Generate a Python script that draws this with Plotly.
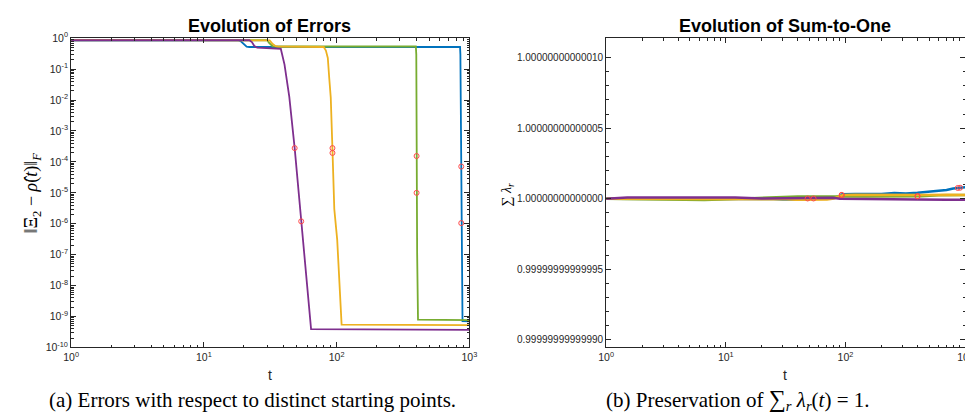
import plotly.graph_objects as go

# ---------------- data: left panel (errors) ----------------
blue_t = [1, 18, 19, 20, 21, 22, 850, 855, 862, 868, 873, 880, 887, 1000]
blue_e = [0.86, 0.86, 0.80, 0.62, 0.53, 0.52, 0.52, 0.3, 1e-2, 7e-5, 1e-6, 1e-8, 7.1e-10, 7.0e-10]

green_t = [1, 30, 31, 33, 36, 395, 398, 400, 401, 404, 410, 1000]
green_e = [0.86, 0.86, 0.7, 0.55, 0.54, 0.54, 0.3, 1e-3, 1e-5, 1e-7, 7.9e-10, 7.6e-10]

yellow_t = [1, 30, 31.3, 33, 34.7, 36, 78, 80, 83, 85.8, 88, 90.3, 93, 96, 101, 105, 109, 1000]
yellow_e = [0.89, 0.89, 0.85, 0.65, 0.55, 0.54, 0.54, 0.52, 0.4, 0.23, 0.05, 1.2e-2, 2.5e-4, 3e-6, 3e-7, 1e-8, 5.5e-10, 5.3e-10]

purple_t = [1, 22, 23, 24, 25.2, 27, 35, 38, 40.5, 44, 48.3, 54.1, 58.9, 64.2, 1000]
purple_e = [0.86, 0.86, 0.75, 0.56, 0.5, 0.49, 0.48, 0.45, 0.14, 1.26e-2, 2.8e-4, 1.2e-6, 2.2e-8, 3.9e-10, 3.7e-10]

circ_t = [48.3, 54.1, 93, 93, 400, 400, 868, 868]
circ_e = [2.8e-4, 1.2e-6, 2.8e-4, 1.95e-4, 1.55e-4, 1e-5, 7.1e-5, 1.05e-6]

# ---------------- data: right panel (sum-to-one), deviation from 1 in units of 1e-15 ----------------
blue_rt = [1, 2, 4, 8, 15, 25, 30, 36, 45, 60, 80, 90, 94, 120, 160, 200, 256, 320, 400, 500, 589, 700, 795, 868, 908, 1000]
blue_rd = [0, 0.1, 0, 0.2, 0, -0.2, -0.5, -0.7, -0.4, 0.2, 0.5, 1.5, 3.0, 3.3, 3.6, 3.4, 3.9, 3.7, 4.2, 4.8, 5.5, 6.2, 7.3, 7.5, 7.7, 8.2]

green_rt = [1, 2, 3.5, 5, 6.6, 9, 15, 23, 30, 40, 55, 70, 82, 90, 100, 150, 250, 400, 425, 600, 1000]
green_rd = [0, -0.3, -0.9, -1.0, -0.9, -0.5, 0.2, 1.2, 1.4, 1.5, 1.6, 1.4, 1.5, 1.7, 1.6, 1.5, 1.6, 1.8, 1.8, 2.5, 2.6]

yellow_rt = [1, 2, 4, 8, 15, 25, 32, 38.5, 45, 52, 60, 70, 80, 85, 90, 93, 95.5, 120, 200, 300, 500, 700, 1000]
yellow_rd = [0, 0, 0, 0.1, 0, 0, -0.3, -0.7, -0.8, -0.6, -0.7, -0.4, 0.2, 1.2, 2.2, 2.6, 2.7, 2.8, 2.7, 2.8, 2.7, 2.8, 2.7]

purple_rt = [1, 1.5, 3, 6, 12, 20, 30, 36, 48.3, 54.1, 78, 90, 120, 200, 400, 700, 1000]
purple_rd = [0, 0.8, 0.9, 0.9, 0.8, 0.3, 0.2, 0.6, 0.3, 0.3, 0.7, 0.0, -0.2, -0.3, -0.5, -0.7, -0.7]

rcirc_t = [48.3, 54.1, 93, 93, 400, 400, 868, 908]
rcirc_d = [0.3, 0.3, 2.7, 2.7, 1.8, 1.8, 7.5, 7.7]

left_ticks = [10.0 ** (-k) for k in range(0, 11)]
left_ticktext = ["10<sup>%d</sup>" % (-k) for k in range(0, 11)]
left_minor = [m * 10.0 ** (-k) for k in range(1, 11) for m in range(2, 10)]
x_ticks = [1, 10, 100, 1000]
x_ticktext = ["10<sup>0</sup>", "10<sup>1</sup>", "10<sup>2</sup>", "10<sup>3</sup>"]
x_minor = [m * 10.0 ** k for k in range(0, 3) for m in range(2, 10)]
right_ticks = [1 - 1e-13, 1 - 5e-14, 1.0, 1 + 5e-14, 1 + 1e-13]
right_ticktext = ["0.99999999999990", "0.99999999999995", "1.00000000000000",
                  "1.00000000000005", "1.00000000000010"]
right_minor = [1.0 + k * 1e-14 for k in range(-10, 11) if k % 5 != 0]

C_BLUE = "#0072BD"
C_GREEN = "#77AC30"
C_YELLOW = "#EDB120"
C_PURPLE = "#7E2F8E"
C_RED = "#FF4A4A"

fig = go.Figure()

def add_line(t, y, color, xa, ya, w):
    fig.add_trace(go.Scatter(x=t, y=y, mode="lines", line=dict(color=color, width=w),
                             xaxis=xa, yaxis=ya, showlegend=False, hoverinfo="skip"))

add_line(blue_t, blue_e, C_BLUE, "x", "y", 1.8)
add_line(green_t, green_e, C_GREEN, "x", "y", 1.8)
add_line(yellow_t, yellow_e, C_YELLOW, "x", "y", 1.8)
add_line(purple_t, purple_e, C_PURPLE, "x", "y", 1.8)
fig.add_trace(go.Scatter(x=circ_t, y=circ_e, mode="markers",
                         marker=dict(symbol="circle-open", size=5, color=C_RED, line=dict(width=1)),
                         xaxis="x", yaxis="y", showlegend=False, hoverinfo="skip"))

def dev(d):
    return [1.0 + v * 1e-15 for v in d]

add_line(blue_rt, dev(blue_rd), C_BLUE, "x2", "y2", 2.5)
add_line(green_rt, dev(green_rd), C_GREEN, "x2", "y2", 2.5)
add_line(yellow_rt, dev(yellow_rd), C_YELLOW, "x2", "y2", 2.5)
add_line(purple_rt, dev(purple_rd), C_PURPLE, "x2", "y2", 2.5)
fig.add_trace(go.Scatter(x=rcirc_t, y=dev(rcirc_d), mode="markers",
                         marker=dict(symbol="circle-open", size=5, color=C_RED, line=dict(width=1)),
                         xaxis="x2", yaxis="y2", showlegend=False, hoverinfo="skip"))

AX = "#262626"
common = dict(showline=True, linecolor=AX, linewidth=1, mirror="allticks", ticks="inside",
              ticklen=5, tickcolor=AX, showgrid=False, zeroline=False)
font_log = dict(family="Liberation Sans, Arial", size=10.5, color=AX)
font_lin = dict(family="Liberation Sans, Arial", size=10, color=AX)

def minor(vals):
    return dict(ticks="inside", ticklen=2.5, tickcolor=AX, showgrid=False,
                tickmode="array", tickvals=vals)

yb0 = 1 - 343 / 416
yb1 = 1 - 23 / 416
fig.update_layout(
    width=973, height=416, margin=dict(l=0, r=0, t=0, b=0),
    paper_bgcolor="white", plot_bgcolor="white",
    xaxis=dict(type="log", range=[0, 3], domain=[56 / 973, 461 / 973], anchor="y",
               tickvals=x_ticks, ticktext=x_ticktext, minor=minor(x_minor), tickfont=font_log, **common),
    yaxis=dict(type="log", range=[-10, 0], domain=[yb0, yb1], anchor="x",
               tickvals=left_ticks, ticktext=left_ticktext, minor=minor(left_minor), tickfont=font_log, **common),
    xaxis2=dict(type="log", range=[0, 3], domain=[600 / 973, 965 / 973], anchor="y2",
                tickvals=x_ticks, ticktext=x_ticktext, minor=minor(x_minor), tickfont=font_log, **common),
    yaxis2=dict(type="linear", range=[1 - 1.055e-13, 1 + 1.137e-13], domain=[yb0, yb1], anchor="x2",
                tickvals=right_ticks, ticktext=right_ticktext, minor=minor(right_minor),
                tickfont=font_lin, **common),
)

ann = []
def text(x, y, s, size, family="Liberation Sans, Arial", angle=0, color="black"):
    ann.append(dict(x=x / 973, y=1 - y / 416, xref="paper", yref="paper", text=s, showarrow=False,
                    font=dict(family=family, size=size, color=color), textangle=angle,
                    xanchor="center", yanchor="middle"))

text(258, 10, "<b>Evolution of Errors</b>", 18)
text(782, 10, "<b>Evolution of Sum-to-One</b>", 18)
text(258, 372, "t", 14, color=AX)
text(782, 372, "t", 14, color=AX)
text(17, 183, "‖Ξ<sub>2</sub> − <i>ρ&#770;</i>(<i>t</i>)‖<sub><i>F</i></sub>", 18,
     family="Liberation Serif, Times New Roman", angle=-90)
text(500, 185, "∑ <i>λ<sub>r</sub></i>", 14, family="Liberation Serif, Times New Roman", angle=-90)
text(240, 397, "(a) Errors with respect to distinct starting points.", 21,
     family="Liberation Serif, Times New Roman")
text(734, 397, "(b) Preservation of <span style='font-size:24px'>∑</span><sub><i>r</i></sub> <i>λ<sub>r</sub></i>(<i>t</i>) = 1.", 21,
     family="Liberation Serif, Times New Roman")
fig.update_layout(annotations=ann)

fig.write_html("out.html")
